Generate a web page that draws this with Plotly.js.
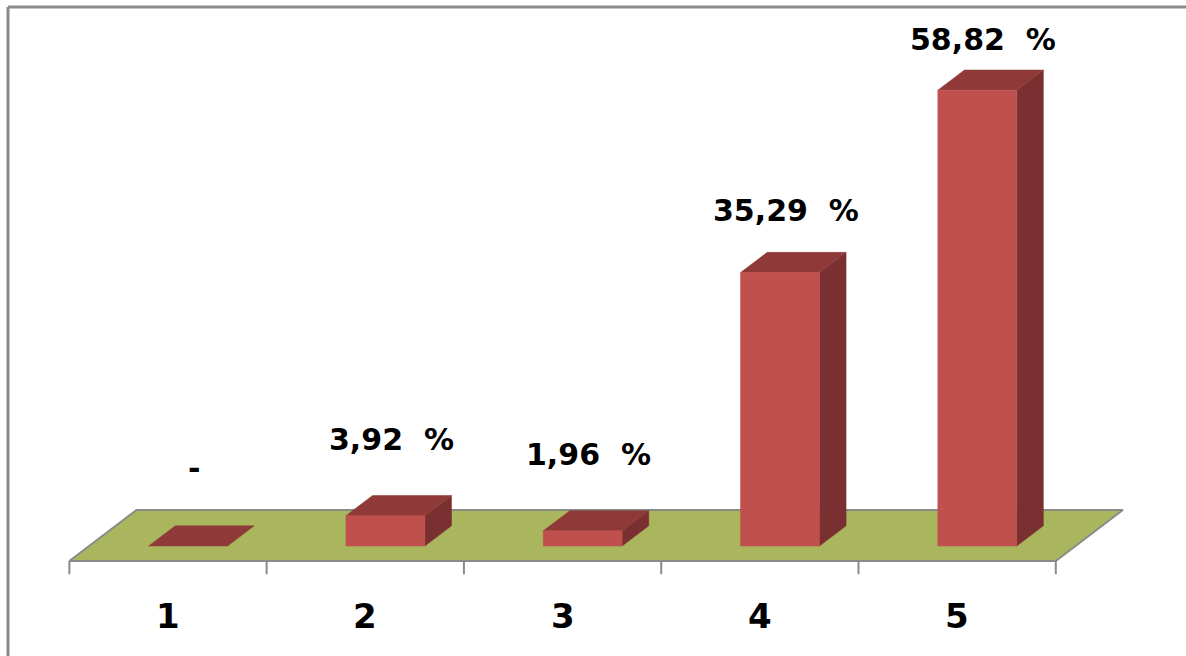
<!DOCTYPE html>
<html>
<head>
<meta charset="utf-8">
<script src="https://cdn.plot.ly/plotly-3.0.1.min.js"></script>
<style>html,body{margin:0;padding:0;background:#fff;}#chart{width:1186px;height:656px;}</style>
</head>
<body>
<div id="chart"></div>
<script>
// ---- data ----
const categories = ['1', '2', '3', '4', '5'];
const values = [0, 3.92, 1.96, 35.29, 58.82];
const valueLabels = ['-', '3,92 \u00a0%', '1,96 \u00a0%', '35,29 \u00a0%', '58,82 \u00a0%'];

// ---- style / geometry (oblique projection in data units) ----
const FRONT = '#C0504D', TOP = '#8F3A38', SIDE = '#7A3030';
const FLOOR = '#A9B65E', GRAY = '#8A8A8A';
const floorDx = 0.34, floorDy = 6.58, floorY0 = -1.94;   // floor depth
const barShift = 0.102, barHalf = 0.2;                   // front face position
const barDx = 0.135, barDy = 2.6;                        // bar depth
const n = categories.length;

const traces = [];
function poly(xs, ys, color, lineColor, lw) {
  traces.push({
    type: 'scatter', mode: 'lines', fill: 'toself',
    x: xs.concat([xs[0]]), y: ys.concat([ys[0]]),
    fillcolor: color, line: {color: lineColor || color, width: lw || 0.5},
    hoverinfo: 'skip', showlegend: false
  });
}

// floor
const fl = -0.5, fr = n - 0.5;
poly([fl, fr, fr + floorDx, fl + floorDx],
     [floorY0, floorY0, floorY0 + floorDy, floorY0 + floorDy], FLOOR, GRAY, 2);

// tick marks under front edge of floor
const tx = [], ty = [];
for (let k = 0; k <= n; k++) { tx.push(k - 0.5, k - 0.5, null); ty.push(floorY0, floorY0 - 1.7, null); }
traces.push({type: 'scatter', mode: 'lines', x: tx, y: ty, line: {color: GRAY, width: 2},
  hoverinfo: 'skip', showlegend: false});

// bars
values.forEach((v, i) => {
  const l = i + barShift - barHalf, r = i + barShift + barHalf;
  // side
  if (v > 0) poly([r, r + barDx, r + barDx, r], [0, barDy, v + barDy, v], SIDE);
  // top
  poly([l, r, r + barDx, l + barDx], [v, v, v + barDy, v + barDy], TOP);
  // front
  if (v > 0) poly([l, r, r, l], [0, 0, v, v], FRONT);
});

const annotations = [];
values.forEach((v, i) => {
  annotations.push({
    x: i + barShift + 0.03, y: v + 10 - 0.058 * v, xref: 'x', yref: 'y',
    text: valueLabels[i], showarrow: false, xanchor: 'center', yanchor: 'middle',
    font: {family: 'DejaVu Sans', size: 30, color: '#000', weight: 'bold'}
  });
});
categories.forEach((c, i) => {
  annotations.push({
    x: i, y: -9.03, xref: 'x', yref: 'y', text: c, showarrow: false,
    xanchor: 'center', yanchor: 'middle',
    font: {family: 'DejaVu Sans', size: 34, color: '#000', weight: 'bold'}
  });
});

const W = 1186, H = 656;
const layout = {
  width: W, height: H,
  margin: {l: 0, r: 0, t: 0, b: 0},
  paper_bgcolor: '#fff', plot_bgcolor: '#fff',
  showlegend: false,
  xaxis: {range: [-0.8515, 5.16], visible: false, fixedrange: true},
  yaxis: {range: [-14.19, 70.45], visible: false, fixedrange: true},
  annotations: annotations,
  shapes: [
    {type: 'line', xref: 'paper', yref: 'paper', x0: 8 / W, x1: 1, y0: 1 - 7 / H, y1: 1 - 7 / H,
     line: {color: GRAY, width: 3}},
    {type: 'line', xref: 'paper', yref: 'paper', x0: 8 / W, x1: 8 / W, y0: 1 - 7 / H, y1: 0,
     line: {color: GRAY, width: 3}}
  ]
};

Plotly.newPlot('chart', traces, layout, {displayModeBar: false, staticPlot: true});
</script>
</body>
</html>
